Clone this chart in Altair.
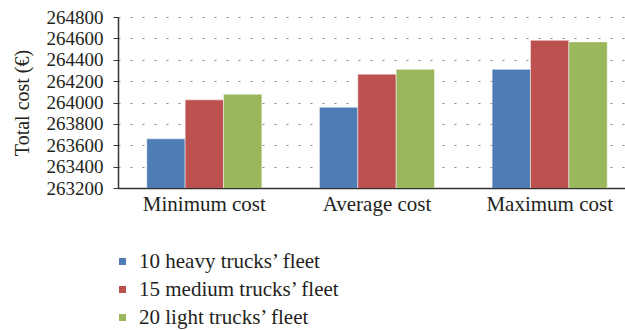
import altair as alt
import pandas as pd

# Total cost per fleet configuration for each cost scenario
scenarios = ["Minimum cost", "Average cost", "Maximum cost"]
fleets = ["10 heavy trucks’ fleet", "15 medium trucks’ fleet", "20 light trucks’ fleet"]
heavy_10 = [263660, 263955, 264310]
medium_15 = [264025, 264265, 264582]
light_20 = [264078, 264310, 264567]
colors = ["#4F7CB4", "#BC514F", "#9AB75C"]
y_ticks = list(range(263200, 264801, 200))

rows = []
for fleet, values in zip(fleets, [heavy_10, medium_15, light_20]):
    for scen, v in zip(scenarios, values):
        rows.append({"scenario": scen, "fleet": fleet, "cost": v})
df = pd.DataFrame(rows)

FONT = "Liberation Serif, DejaVu Serif, serif"
TEXT = "#231F20"

# The category bands run a little past the right edge of the visible plot
bars = alt.Chart(df).mark_bar(
    stroke="#ffffff", strokeWidth=0.8, strokeOpacity=0.6, clip=True
).encode(
    x=alt.X(
        "scenario:N",
        sort=scenarios,
        title=None,
        scale=alt.Scale(paddingInner=1 / 3, paddingOuter=1 / 6, range=[0, 518]),
        axis=alt.Axis(
            labelAngle=0, ticks=False, labelPadding=5, labelFontSize=21,
            labelFont=FONT, labelColor=TEXT, domainColor="#333333",
            domainWidth=1.5, grid=False,
        ),
    ),
    xOffset=alt.XOffset("fleet:N", sort=fleets, scale=alt.Scale(paddingInner=0, paddingOuter=0)),
    y=alt.Y(
        "cost:Q",
        title="Total cost (€)",
        scale=alt.Scale(domain=[263200, 264800], zero=False, nice=False),
        axis=alt.Axis(
            values=y_ticks, format="d", labelFontSize=19, labelFont=FONT,
            labelColor=TEXT, labelPadding=10, tickSize=5, tickColor="#333333",
            domainColor="#333333", domainWidth=1.5,
            titleFont=FONT, titleFontSize=20, titleFontWeight="normal",
            titleColor=TEXT, titlePadding=14,
            grid=True, gridColor="#8a8a8a", gridDash=[2, 10], gridWidth=1.2,
        ),
    ),
    color=alt.Color(
        "fleet:N",
        sort=fleets,
        scale=alt.Scale(domain=fleets, range=colors),
        legend=alt.Legend(
            title=None, orient="none", legendX=-6, legendY=234,
            symbolType="square", symbolSize=49, symbolStrokeWidth=0,
            labelFont=FONT, labelFontSize=21, labelColor=TEXT,
            labelOffset=6, rowPadding=6, labelLimit=400,
        ),
    ),
)

chart = bars.properties(
    width=507,
    height=171,
    padding={"left": 118, "top": 17, "right": 0, "bottom": 142},
    autosize=alt.AutoSizeParams(type="none"),
    background="#ffffff",
).configure_view(stroke=None)

chart.save("out.html", embed_options={"renderer": "svg", "actions": False})
